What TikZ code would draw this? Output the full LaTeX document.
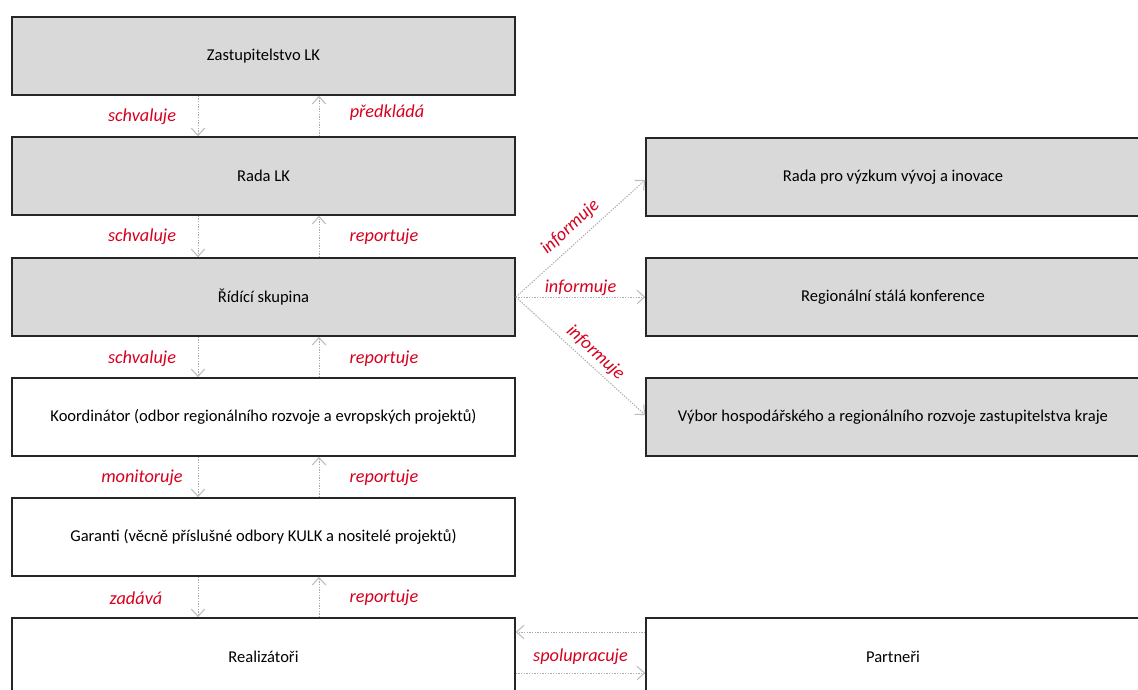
\documentclass[tikz,border=0pt]{standalone}
\usepackage{fontspec}
\setmainfont{Carlito}
\usetikzlibrary{arrows.meta,calc}
\definecolor{boxgray}{HTML}{D9D9D9}
\definecolor{lblred}{HTML}{D7001E}
\definecolor{arrgray}{HTML}{ABABAB}
\definecolor{tipgray}{HTML}{BDBDBD}
\begin{document}
\begin{tikzpicture}[x=0.75pt,y=-0.75pt,
  box/.style={draw=black!85,line width=1.2pt,minimum width=377.25pt,minimum height=58.5pt,inner sep=0pt,font=\fontsize{12.4}{14}\selectfont},
  greybox/.style={box,fill=boxgray},
  wbox/.style={box,fill=white},
  rbox/.style={minimum width=370.5pt},
  lbl/.style={text=lblred,font=\fontsize{13.7}{16}\selectfont\itshape,inner sep=1pt},
  conn/.style={draw=arrgray,dash pattern=on 1pt off 1pt,line width=0.75pt,
    -{Straight Barb[length=5.5pt,width=10pt,line width=0.8pt,color=tipgray]}}]
\useasboundingbox (0,0) rectangle (1138,689);
\clip (0,0) rectangle (1138,689);
\fill[white] (0,0) rectangle (1138,689);
% left column
\node[greybox] (zast) at (263.5,56) {Zastupitelstvo LK};
\node[greybox] (rada) at (263.5,176) {Rada LK};
\node[greybox] (rid) at (263.5,297) {Řídící skupina};
\node[wbox] (koord) at (263.5,417) {Koordinátor (odbor regionálního rozvoje a evropských projektů)};
\node[wbox] (gar) at (263.5,537) {Garanti (věcně příslušné odbory KULK a nositelé projektů)};
\node[wbox] (real) at (263.5,657) {Realizátoři};
% right column
\node[greybox,rbox] (rvvi) at (893,177) {Rada pro výzkum vývoj a inovace};
\node[greybox,rbox] (rsk) at (893,297) {Regionální stálá konference};
\node[greybox,rbox] (vyb) at (893,417) {Výbor hospodářského a regionálního rozvoje zastupitelstva kraje};
\node[wbox,rbox] (part) at (893,657) {Partneři};
% vertical connectors
\foreach \a/\b in {zast/rada,rada/rid,rid/koord,koord/gar,gar/real}{
  \draw[conn] ($(\a.south)+(-65.5,0)$) -- ($(\b.north)+(-65.5,0)$);
  \draw[conn] ($(\b.north)+(55.5,0)$) -- ($(\a.south)+(55.5,0)$);
}
% labels
\node[lbl] (l1a) at (142,117) {schvaluje};
\node[lbl] (l1b) at (387,113) {předkládá};
\node[lbl] (l2a) at (142,237) {schvaluje};
\node[lbl] (l2b) at (384,237) {reportuje};
\node[lbl] (l3a) at (142,359) {schvaluje};
\node[lbl] (l3b) at (384,359) {reportuje};
\node[lbl] (l4a) at (142,478) {monitoruje};
\node[lbl] (l4b) at (384,478) {reportuje};
\node[lbl] (l5a) at (136,598) {zadává};
\node[lbl] (l5b) at (384,598) {reportuje};
% informuje
\draw[conn] (rid.east) -- node[lbl,sloped,above=4pt,pos=0.5] (i1) {informuje} ($(rvvi.west)+(0,3)$);
\draw[conn] (rid.east) -- node[lbl,above,pos=0.5] (i2) {informuje} (rsk.west);
\draw[conn] (rid.east) -- node[lbl,sloped,above=2pt,pos=0.55] (i3) {informuje} ($(vyb.west)+(0,-2)$);
% spolupracuje
\draw[conn] ($(part.west)+(0,-25)$) -- ($(real.east)+(0,-25)$);
\draw[conn] ($(real.east)+(0,16)$) -- node[lbl,above=5pt] (sp) {spolupracuje} ($(part.west)+(0,16)$);
\end{tikzpicture}
\end{document}
